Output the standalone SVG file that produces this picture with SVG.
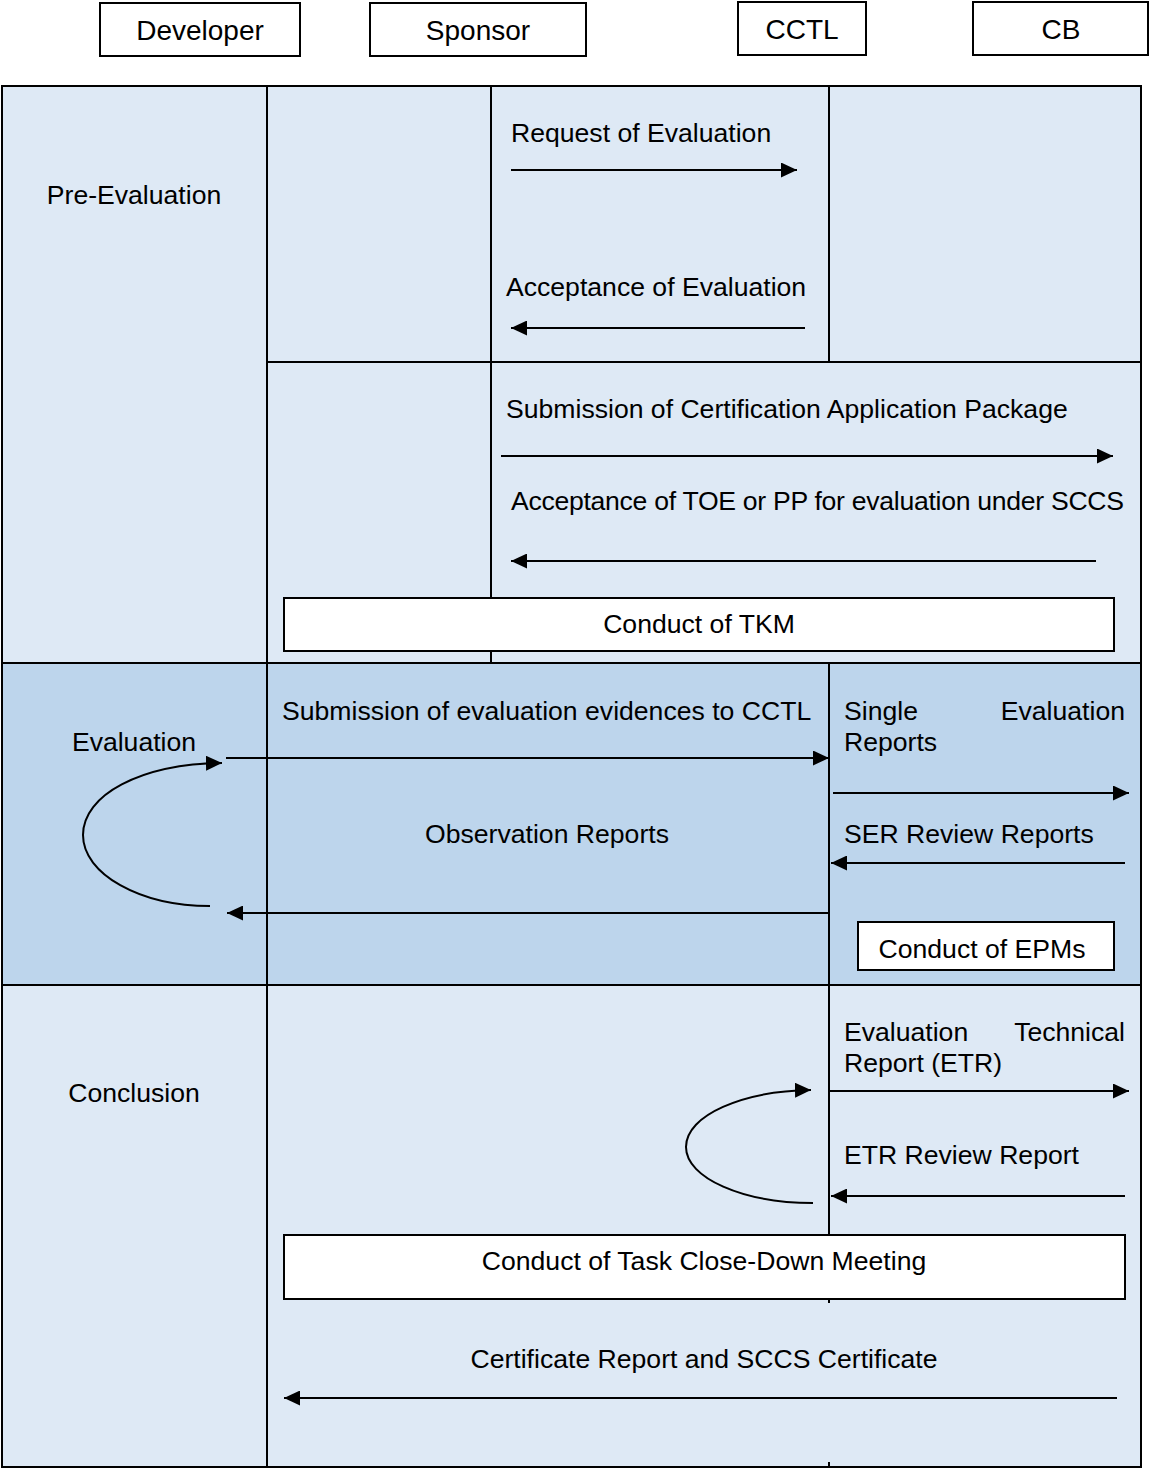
<svg xmlns="http://www.w3.org/2000/svg" width="1149" height="1468" viewBox="0 0 1149 1468">
<style>
text{font-family:"Liberation Sans",Arial,sans-serif;font-size:26.6px;fill:#000}
.hd{font-size:28px}
.c{text-anchor:middle}
.e{text-anchor:end}
.grid{stroke:#000;stroke-width:2;fill:none}
.box{fill:#fff;stroke:#000;stroke-width:2}
.ar{stroke:#000;stroke-width:2;fill:none}
</style>
<defs>
<marker id="ah" markerUnits="userSpaceOnUse" markerWidth="17" markerHeight="15" refX="16" refY="7.5" orient="auto">
<path d="M0,0 L16,7.5 L0,15 Z" fill="#000"/>
</marker>
</defs>

<g id="lanes">
<g id="h-developer"><rect class="box" x="100" y="3" width="200" height="53"/><text class="c hd" x="200" y="40">Developer</text></g>
<g id="h-sponsor"><rect class="box" x="370" y="3" width="216" height="53"/><text class="c hd" x="478" y="40">Sponsor</text></g>
<g id="h-cctl"><rect class="box" x="738" y="2" width="128" height="53"/><text class="c hd" x="802" y="39">CCTL</text></g>
<g id="h-cb"><rect class="box" x="973" y="2" width="175" height="53"/><text class="c hd" x="1061" y="39">CB</text></g>
</g>

<g id="table">
<rect x="2" y="86" width="1139" height="577" fill="#DEE9F5"/>
<rect x="2" y="663" width="1139" height="322" fill="#BDD5EC"/>
<rect x="2" y="985" width="1139" height="482" fill="#DEE9F5"/>
<rect class="grid" x="2" y="86" width="1139" height="1381"/>
<line class="grid" x1="2" y1="663" x2="1141" y2="663"/>
<line class="grid" x1="2" y1="985" x2="1141" y2="985"/>
<line class="grid" x1="267" y1="86" x2="267" y2="1467"/>
<line class="grid" x1="267" y1="362" x2="1141" y2="362"/>
<line class="grid" x1="491" y1="86" x2="491" y2="598"/>
<line class="grid" x1="491" y1="651" x2="491" y2="663"/>
<line class="grid" x1="829" y1="86" x2="829" y2="362"/>
<line class="grid" x1="829" y1="663" x2="829" y2="1235"/>
<line class="grid" x1="829" y1="1299" x2="829" y2="1303"/>
<line class="grid" x1="829" y1="1462" x2="829" y2="1467"/>
<text class="c" x="134" y="204">Pre-Evaluation</text>
<text class="c" x="134" y="751">Evaluation</text>
<text class="c" x="134" y="1102">Conclusion</text>
</g>

<g id="tkm"><rect class="box" x="284" y="598" width="830" height="53"/><text class="c" x="699" y="633">Conduct of TKM</text></g>
<g id="epms"><rect class="box" x="858" y="922" width="256" height="48"/><text class="c" x="982" y="958">Conduct of EPMs</text></g>
<g id="closedown"><rect class="box" x="284" y="1235" width="841" height="64"/><text class="c" x="704" y="1270">Conduct of Task Close-Down Meeting</text></g>

<g id="connectors">
<line class="ar" x1="511" y1="170" x2="797" y2="170" marker-end="url(#ah)"/>
<text x="511" y="142">Request of Evaluation</text>
<line class="ar" x1="805" y1="328" x2="511" y2="328" marker-end="url(#ah)"/>
<text x="506" y="296">Acceptance of Evaluation</text>
<line class="ar" x1="501" y1="456" x2="1113" y2="456" marker-end="url(#ah)"/>
<text x="506" y="418">Submission of Certification Application Package</text>
<line class="ar" x1="1096" y1="561" x2="511" y2="561" marker-end="url(#ah)"/>
<text x="511" y="510" textLength="613" lengthAdjust="spacing">Acceptance of TOE or PP for evaluation under SCCS</text>

<line class="ar" x1="226" y1="758" x2="829" y2="758" marker-end="url(#ah)"/>
<text x="282" y="720">Submission of evaluation evidences to CCTL</text>
<path class="ar" d="M210,906 C140,906 83,874 83,835 C83,795 140,764 222,763" marker-end="url(#ah)"/>
<line class="ar" x1="829" y1="913" x2="227" y2="913" marker-end="url(#ah)"/>
<text class="c" x="547" y="843">Observation Reports</text>
<line class="ar" x1="833" y1="793" x2="1129" y2="793" marker-end="url(#ah)"/>
<text x="844" y="720">Single</text>
<text class="e" x="1125" y="720">Evaluation</text>
<text x="844" y="751">Reports</text>
<line class="ar" x1="1125" y1="863" x2="831" y2="863" marker-end="url(#ah)"/>
<text x="844" y="843">SER Review Reports</text>

<line class="ar" x1="829" y1="1091" x2="1129" y2="1091" marker-end="url(#ah)"/>
<text x="844" y="1041">Evaluation</text>
<text class="e" x="1125" y="1041">Technical</text>
<text x="844" y="1072">Report (ETR)</text>
<path class="ar" d="M813,1203 C743,1203 686,1178 686,1147 C686,1115 743,1091 811,1090" marker-end="url(#ah)"/>
<line class="ar" x1="1125" y1="1196" x2="831" y2="1196" marker-end="url(#ah)"/>
<text x="844" y="1164">ETR Review Report</text>
<line class="ar" x1="1117" y1="1398" x2="284" y2="1398" marker-end="url(#ah)"/>
<text class="c" x="704" y="1368">Certificate Report and SCCS Certificate</text>
</g>
</svg>
